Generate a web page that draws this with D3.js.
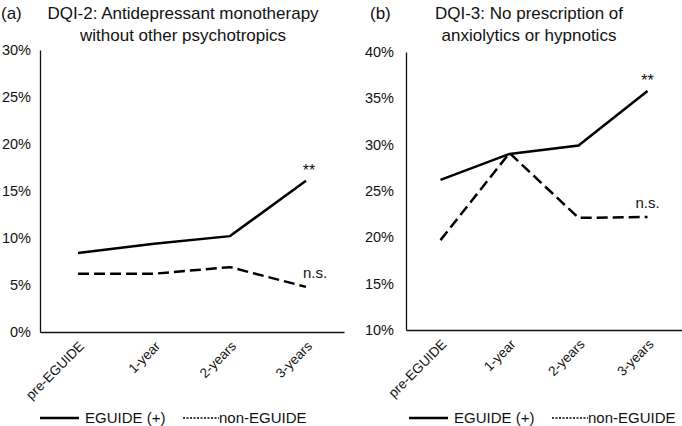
<!DOCTYPE html>
<html><head><meta charset="utf-8">
<script src="https://cdn.jsdelivr.net/npm/d3@7"></script>
<style>body{margin:0;background:#fff;} text{font-family:"Liberation Sans",Arial,Helvetica,sans-serif;fill:#111;}</style>
</head><body>
<svg id="c" width="682" height="426"></svg>
<script>
const categories = ["pre-EGUIDE","1-year","2-years","3-years"];
const dqi2Eguide = [8.4, 9.4, 10.2, 16.1];
const dqi2Non = [6.2, 6.2, 6.9, 4.8];
const dqi3Eguide = [26.2, 29.0, 29.9, 35.8];
const dqi3Non = [19.7, 29.1, 22.1, 22.2];
const dqi2Ticks = [0,5,10,15,20,25,30];
const dqi3Ticks = [10,15,20,25,30,35,40];
const seriesNames = ["EGUIDE (+)","non-EGUIDE"];

const svg = d3.select("#c");

function panel(opt){
  const g = svg.append("g");
  const x = d3.scaleBand().domain(categories).range([opt.x0, opt.x1]);
  const y = d3.scaleLinear().domain([opt.ticks[0], opt.ticks[opt.ticks.length-1]]).range([opt.y0, opt.y1]);
  // y axis
  const ya = g.append("g").attr("transform",`translate(${opt.x0},0)`)
    .call(d3.axisLeft(y).tickValues(opt.ticks).tickSize(0).tickPadding(opt.pad).tickFormat(d=>d+"%"));
  ya.select(".domain").attr("stroke","#111").attr("stroke-width",1.3);
  ya.selectAll("text").attr("font-size",14.5).attr("font-family","Liberation Sans, Arial, sans-serif").attr("fill","#111");
  // x axis
  const xa = g.append("g").attr("transform",`translate(0,${opt.y0})`)
    .call(d3.axisBottom(x).tickSize(0).tickPadding(0));
  xa.select(".domain").attr("stroke","#111").attr("stroke-width",1.3);
  xa.selectAll("text").attr("font-size",13.5).attr("font-family","Liberation Sans, Arial, sans-serif").attr("fill","#111")
    .attr("text-anchor","end").attr("dy",0).attr("y",0)
    .attr("transform","translate(7,15) rotate(-45)");
  const line = d3.line().x((d,i)=>x(categories[i])+x.bandwidth()/2).y(d=>y(d));
  g.append("path").datum(opt.s1).attr("d",line).attr("fill","none").attr("stroke","#000").attr("stroke-width",2.5);
  g.append("path").datum(opt.s2).attr("d",line).attr("fill","none").attr("stroke","#000").attr("stroke-width",2.5).attr("stroke-dasharray","11,5");
  const xl = x(categories[3])+x.bandwidth()/2;
  g.append("text").attr("x",xl+opt.starDx).attr("y",y(opt.s1[3])-5).attr("text-anchor","middle").attr("font-size",16).attr("fill","#333").text("**");
  g.append("text").attr("x",xl+opt.nsDx).attr("y",y(opt.s2[3])+opt.nsDy).attr("text-anchor","middle").attr("font-size",15).text("n.s.");
  // titles
  g.append("text").attr("x",opt.labX).attr("y",19).attr("font-size",17).text(opt.lab);
  opt.title.forEach((t,i)=>g.append("text").attr("x",opt.tx).attr("y",19+i*22).attr("text-anchor","middle").attr("font-size",17).text(t));
  // legend
  const ly = 418;
  g.append("line").attr("x1",opt.lx).attr("x2",opt.lx+39).attr("y1",ly).attr("y2",ly).attr("stroke","#000").attr("stroke-width",2.5);
  g.append("text").attr("x",opt.lx+45).attr("y",ly+5).attr("font-size",15).text(seriesNames[0]);
  g.append("line").attr("x1",opt.lx+143).attr("x2",opt.lx+179).attr("y1",ly).attr("y2",ly).attr("stroke","#000").attr("stroke-width",1.6).attr("stroke-dasharray","2,1.5");
  g.append("text").attr("x",opt.lx+179).attr("y",ly+5).attr("font-size",15).text(seriesNames[1]);
}

panel({x0:40,x1:344,y0:332,y1:50,ticks:dqi2Ticks,pad:9,s1:dqi2Eguide,s2:dqi2Non,
  starDx:3,nsDx:9,nsDy:-9,lab:"(a)",labX:1,tx:183,
  title:["DQI-2: Antidepressant monotherapy","without other psychotropics"],lx:40});
panel({x0:406,x1:682,y0:330,y1:52,ticks:dqi3Ticks,pad:12,s1:dqi3Eguide,s2:dqi3Non,
  starDx:0,nsDx:0,nsDy:-9,lab:"(b)",labX:370,tx:529,
  title:["DQI-3: No prescription of","anxiolytics or hypnotics"],lx:409});
</script>
</body></html>
